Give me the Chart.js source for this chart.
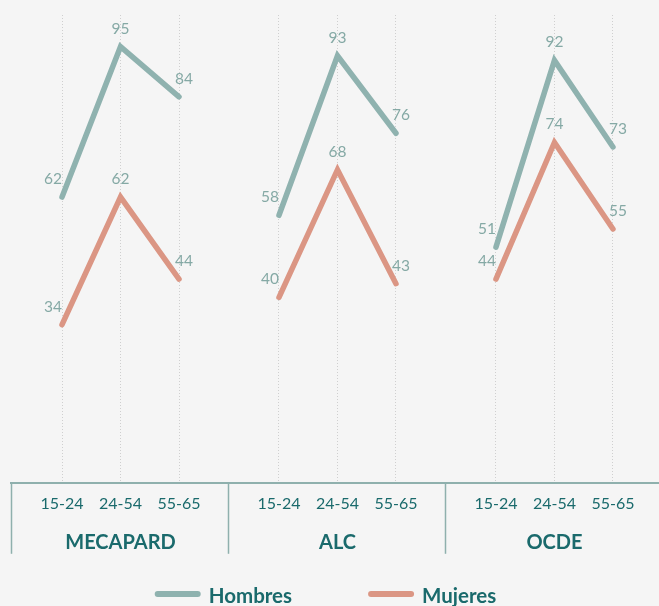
<!DOCTYPE html>
<html>
<head>
<meta charset="utf-8">
<script src="https://cdn.jsdelivr.net/npm/chart.js@4.4.1/dist/chart.umd.min.js"></script>
<style>
  html, body { margin: 0; padding: 0; background: #f5f5f5; }
  #wrap { width: 659px; height: 606px; }
</style>
</head>
<body>
<div id="wrap"><canvas id="c" width="659" height="606"></canvas></div>
<script>
const ageGroups = ["15-24", "24-54", "55-65"];
const regions = ["MECAPARD", "ALC", "OCDE"];
const hombres = [62, 95, 84, 58, 93, 76, 51, 92, 73];
const mujeres = [34, 62, 44, 40, 68, 43, 44, 74, 55];
const seriesNames = ["Hombres", "Mujeres"];

const COL_H = "#8fb2af";
const COL_M = "#db9684";
const COL_LABEL = "#85a9a5";
const COL_TEXT = "#1a6a6c";
const COL_AXIS = "#8fb0ad";
const FONT = "Lato, 'Open Sans', sans-serif";

const SPAN = 3.709;      // x units per region group
const X_MIN = -0.872;
const X_MAX = 10.205;

function xOf(g, i) { return g * SPAN + i; }

function buildSeries(values) {
  const pts = [];
  regions.forEach((r, g) => {
    ageGroups.forEach((a, i) => {
      pts.push({ x: xOf(g, i), y: values[g * ageGroups.length + i], cat: i });
    });
    pts.push({ x: xOf(g, 2.5), y: null });
  });
  return pts;
}

const tickValues = [];
regions.forEach((r, g) => ageGroups.forEach((a, i) => tickValues.push(xOf(g, i))));

const labelPlugin = {
  id: 'pointLabels',
  afterDatasetsDraw(chart) {
    const ctx = chart.ctx;
    const dxs = [-9, 0, 5];
    ctx.save();
    ctx.font = "15.5px " + FONT;
    ctx.fillStyle = COL_LABEL;
    ctx.textAlign = "center";
    ctx.textBaseline = "middle";
    chart.data.datasets.forEach((ds, di) => {
      const meta = chart.getDatasetMeta(di);
      meta.data.forEach((el, idx) => {
        const p = ds.data[idx];
        if (p.y === null || p.y === undefined) return;
        ctx.fillText(String(p.y), el.x + dxs[p.cat], el.y - 18);
      });
    });
    ctx.restore();
  }
};

const groupPlugin = {
  id: 'groups',
  afterDraw(chart) {
    const ctx = chart.ctx;
    const xs = chart.scales.x;
    const bottom = chart.chartArea.bottom;
    ctx.save();
    ctx.strokeStyle = COL_AXIS;
    ctx.lineWidth = 1.5;
    regions.forEach((r, g) => {
      const left = xs.getPixelForValue(g * SPAN + X_MIN);
      ctx.beginPath();
      ctx.moveTo(Math.round(left) + 0.5, bottom);
      ctx.lineTo(Math.round(left) + 0.5, bottom + 71);
      ctx.stroke();
    });
    ctx.font = "bold 20px " + FONT;
    ctx.fillStyle = COL_TEXT;
    ctx.textAlign = "center";
    ctx.textBaseline = "middle";
    regions.forEach((r, g) => {
      ctx.fillText(r, xs.getPixelForValue(xOf(g, 1)), bottom + 60);
    });

    // legend
    const items = chart.data.datasets.map(d => ({ label: d.label, color: d.borderColor }));
    ctx.font = "bold 20.5px " + FONT;
    const lineLen = 46, gap = 8, itemGap = 76;
    let total = 0;
    items.forEach((it, k) => {
      it.w = ctx.measureText(it.label).width;
      total += lineLen + gap + it.w + (k < items.length - 1 ? itemGap : 0);
    });
    let x = chart.width / 2 - total / 2 - 4;
    const ly = 594;
    items.forEach(it => {
      ctx.strokeStyle = it.color;
      ctx.lineWidth = 6;
      ctx.lineCap = "round";
      ctx.beginPath();
      ctx.moveTo(x + 3, ly);
      ctx.lineTo(x + lineLen - 3, ly);
      ctx.stroke();
      ctx.fillStyle = COL_TEXT;
      ctx.textAlign = "left";
      ctx.fillText(it.label, x + lineLen + gap, ly + 2);
      x += lineLen + gap + it.w + itemGap;
    });
    ctx.restore();
  }
};

const bgPlugin = {
  id: 'bg',
  beforeDraw(chart) {
    const ctx = chart.ctx;
    ctx.save();
    ctx.fillStyle = "#f5f5f5";
    ctx.fillRect(0, 0, chart.width, chart.height);
    ctx.restore();
  }
};

new Chart(document.getElementById("c"), {
  type: "line",
  data: {
    datasets: [
      { label: seriesNames[0], data: buildSeries(hombres), borderColor: COL_H, backgroundColor: COL_H },
      { label: seriesNames[1], data: buildSeries(mujeres), borderColor: COL_M, backgroundColor: COL_M }
    ]
  },
  options: {
    responsive: false,
    animation: false,
    spanGaps: false,
    layout: { padding: { left: 11, right: 0, top: 15, bottom: 82 } },
    elements: {
      line: { borderWidth: 5.5, tension: 0, borderCapStyle: "round", borderJoinStyle: "miter" },
      point: { radius: 0, hoverRadius: 0 }
    },
    plugins: { legend: { display: false }, tooltip: { enabled: false } },
    scales: {
      x: {
        type: "linear",
        min: X_MIN,
        max: X_MAX,
        afterBuildTicks(scale) { scale.ticks = tickValues.map(v => ({ value: v })); },
        ticks: {
          autoSkip: false,
          maxRotation: 0,
          padding: 11,
          color: COL_TEXT,
          font: { family: FONT, size: 16 },
          callback(value) {
            const i = tickValues.findIndex(t => Math.abs(t - value) < 1e-6);
            return i >= 0 ? ageGroups[i % ageGroups.length] : "";
          }
        },
        grid: { color: "#cfcfcf", lineWidth: 1, drawTicks: false, tickLength: 0 },
        border: { display: true, color: COL_AXIS, width: 2, dash: [1, 2] }
      },
      y: {
        display: false,
        min: -0.7,
        max: 101.95
      }
    }
  },
  plugins: [bgPlugin, labelPlugin, groupPlugin]
});
</script>
</body>
</html>
